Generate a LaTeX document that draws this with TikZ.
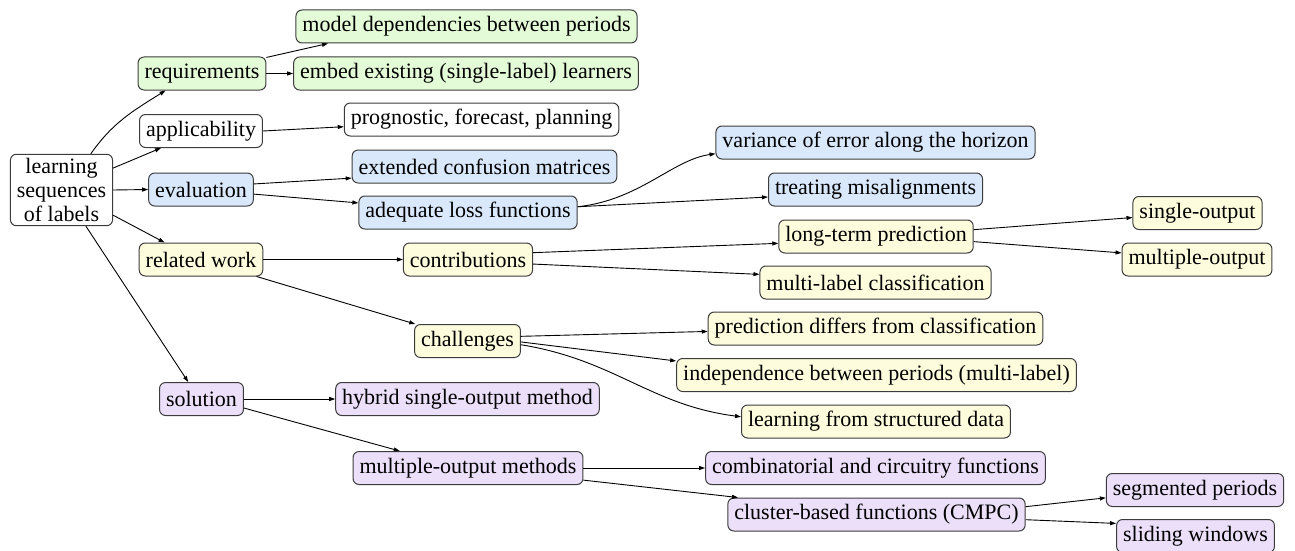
\documentclass[tikz,border=0pt]{standalone}
\usepackage{fontspec}
\setmainfont{Liberation Serif}
\usetikzlibrary{arrows.meta}
\definecolor{greenfill}{HTML}{E4FBD8}
\definecolor{bluefill}{HTML}{DAE8FC}
\definecolor{yellowfill}{HTML}{FDFDDE}
\definecolor{purplefill}{HTML}{EBDFFA}
\definecolor{framecol}{HTML}{3C3C3C}
\tikzset{
  topic/.style={draw=framecol, line width=1pt, rounded corners=6pt,
    minimum height=33pt, inner xsep=6.5pt, inner ysep=2pt,
    font=\fontsize{22}{24}\selectfont, fill=white},
  whitebox/.style={topic},
  greenbox/.style={topic, fill=greenfill},
  bluebox/.style={topic, fill=bluefill},
  yellowbox/.style={topic, fill=yellowfill},
  purplebox/.style={topic, fill=purplefill},
  edge/.style={line width=0.9pt, draw=black,
    -{Triangle[length=6pt,width=4pt]}},
}
\begin{document}
\begin{tikzpicture}[x=1pt,y=-1pt]
\useasboundingbox (0,0) rectangle (1295,551);

% root
\node[whitebox, align=center, inner ysep=4pt] (root) at (61.5,190)
  {learning\\sequences\\of labels};

% first level
\node[greenbox]  (req)  at (202,73.5)  {requirements};
\node[whitebox]  (app)  at (201,131)   {applicability};
\node[bluebox]   (eval) at (201,189.5) {evaluation};
\node[yellowbox] (rel)  at (201,259.5) {related work};
\node[purplebox] (sol)  at (201.5,399) {solution};

% requirements
\node[greenbox] (model) at (466.5,26.5) {model dependencies between periods};
\node[greenbox] (embed) at (466,73.5)   {embed existing (single-label) learners};

% applicability
\node[whitebox] (prog) at (481.5,119.5) {prognostic, forecast, planning};

% evaluation
\node[bluebox] (ext)   at (484.5,166.5) {extended confusion matrices};
\node[bluebox] (adeq)  at (468,212.5)   {adequate loss functions};
\node[bluebox] (var)   at (875.5,142.5) {variance of error along the horizon};
\node[bluebox] (treat) at (875.5,189.5) {treating misalignments};

% related work
\node[yellowbox] (contrib)    at (468,259.5)   {contributions};
\node[yellowbox] (chal)       at (467.5,341)   {challenges};
\node[yellowbox] (longterm)   at (876,236.5)   {long-term prediction};
\node[yellowbox] (multilabel) at (875.5,282.5) {multi-label classification};
\node[yellowbox] (single)     at (1197.5,213)  {single-output};
\node[yellowbox] (multiple)   at (1197,259.5)  {multiple-output};
\node[yellowbox] (pred)       at (875.5,328.5) {prediction differs from classification};
\node[yellowbox] (indep)      at (876.5,375)   {independence between periods (multi-label)};
\node[yellowbox] (learn)      at (876,421.5)   {learning from structured data};

% solution
\node[purplebox] (hybrid)  at (467.5,399)   {hybrid single-output method};
\node[purplebox] (mom)     at (468,468)     {multiple-output methods};
\node[purplebox] (comb)    at (875.5,468)   {combinatorial and circuitry functions};
\node[purplebox] (cluster) at (876.5,514.5) {cluster-based functions (CMPC)};
\node[purplebox] (seg)     at (1195,490)    {segmented periods};
\node[purplebox] (slide)   at (1195.5,536)  {sliding windows};

% connectors
\draw[edge] (root.51) to[out=55,in=-148] (req.-155);
\draw[edge] (root.23) -- (app.-157);
\draw[edge] (root.east) -- (eval.west);
\draw[edge] (root.-26) -- (rel.155);
\draw[edge] (root.-56) -- (sol.128);

\draw[edge] (req.14) -- (model.-173.3);
\draw[edge] (req.east) -- (embed.west);

\draw[edge] (app.east) -- (prog.-177.6);

\draw[edge] (eval.6) -- (ext.-175.7);
\draw[edge] (eval.-5) -- (adeq.175);
\draw[edge] (adeq.3) .. controls (640,200) and (672,160) .. (var.-176.7);
\draw[edge] (adeq.3) -- (treat.-176.6);

\draw[edge] (rel.east) -- (contrib.west);
\draw[edge] (rel.-17) -- (chal.162);
\draw[edge] (contrib.6.6) -- (longterm.-176.8);
\draw[edge] (contrib.-4) -- (multilabel.176.8);
\draw[edge] (longterm.4.3) -- (single.-176.5);
\draw[edge] (longterm.-3.8) -- (multiple.175.9);
\draw[edge] (chal.5) -- (pred.-179.5);
\draw[edge] (chal.-1) -- (indep.176.6);
\draw[edge] (chal.-4) .. controls (615,360) and (650,405) .. (learn.178);

\draw[edge] (sol.east) -- (hybrid.west);
\draw[edge] (sol.-12) -- (mom.166);
\draw[edge] (mom.east) -- (comb.west);
\draw[edge] (mom.-6.3) -- (cluster.173.7);
\draw[edge] (cluster.3.5) -- (seg.-175.5);
\draw[edge] (cluster.-2) -- (slide.171.9);
\end{tikzpicture}
\end{document}
